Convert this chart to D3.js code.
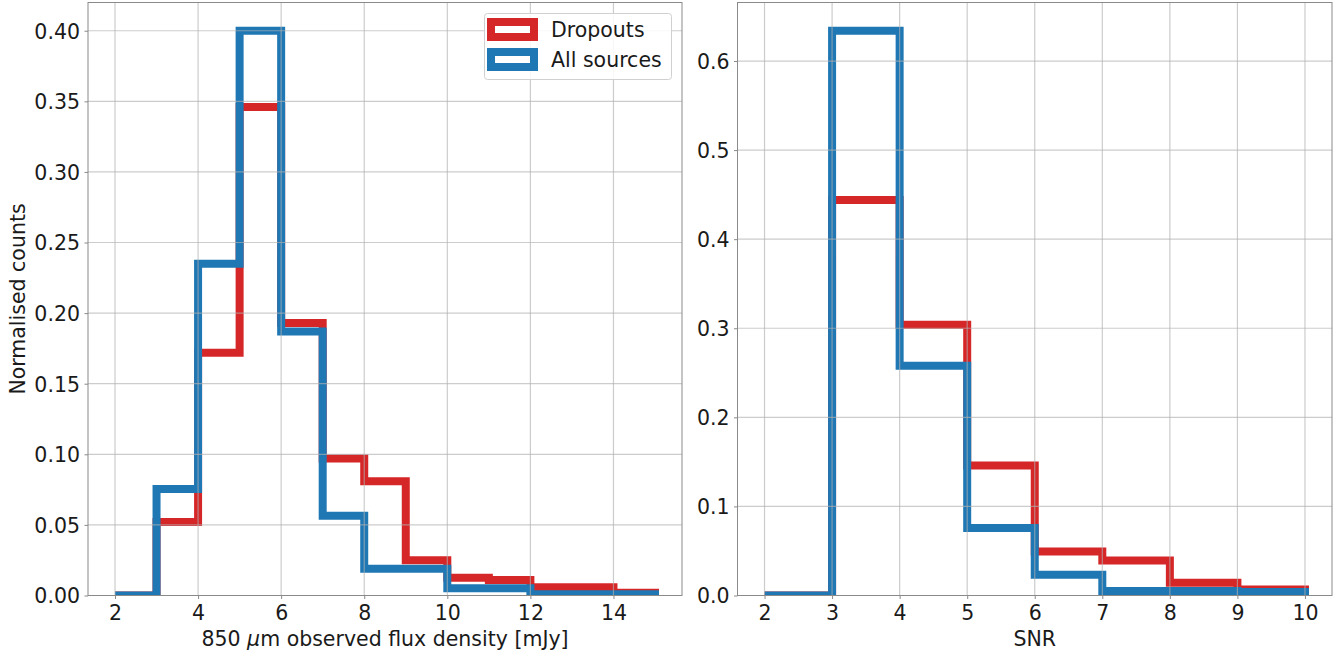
<!DOCTYPE html>
<html>
<head>
<meta charset="utf-8">
<script src="https://cdn.jsdelivr.net/npm/d3@7"></script>
<style>
  html, body { margin: 0; padding: 0; background: #fff; }
  svg { display: block; font-family: "DejaVu Sans", sans-serif; }
</style>
</head>
<body>
<svg id="chart" width="1343" height="653"></svg>
<script>
// ---------- data ----------
const fluxEdges = [2,3,4,5,6,7,8,9,10,11,12,13,14,15];
const fluxDropouts = [0.0, 0.052, 0.172, 0.346, 0.193, 0.097, 0.081, 0.025, 0.0125, 0.011, 0.0058, 0.0058, 0.002];
const fluxAll      = [0.0, 0.0755, 0.235, 0.400, 0.187, 0.0565, 0.019, 0.019, 0.0052, 0.0052, 0.0008, 0.0008, 0.0008];
const fluxTicks = [2,4,6,8,10,12,14];
const fluxYTicks = [0.00,0.05,0.10,0.15,0.20,0.25,0.30,0.35,0.40];

const snrEdges = [2,3,4,5,6,7,8,9,10];
const snrDropouts = [0.0, 0.444, 0.304, 0.146, 0.0494, 0.0393, 0.0142, 0.0068];
const snrAll      = [0.0, 0.634, 0.258, 0.0757, 0.0232, 0.0050, 0.0050, 0.0040];
const snrTicks = [2,3,4,5,6,7,8,9,10];
const snrYTicks = [0.0,0.1,0.2,0.3,0.4,0.5,0.6];

const seriesNames = ["Dropouts", "All sources"];
const seriesColors = ["#d62728", "#1f77b4"];

// ---------- layout ----------
const svg = d3.select("#chart");
const LW = 8;
const FONT = 20.5;
const gridColor = "rgba(176,176,176,0.65)";
const spineColor = "#8a8a8a";

function panel(opts) {
  const {x0, x1, y0, y1, edges, series, xticks, yticks, yfmt, xlabel, ylabel, id} = opts;
  const lo = edges[0], hi = edges[edges.length-1];
  const mx = (hi - lo) * 0.05;
  const ymax = d3.max(series.flat()) * 1.05;
  const x = d3.scaleLinear().domain([lo - mx, hi + mx]).range([x0, x1]);
  const y = d3.scaleLinear().domain([0, ymax]).range([y1, y0]);

  const g = svg.append("g");
  svg.append("defs").append("clipPath").attr("id", "clip" + id)
    .append("rect").attr("x", x0).attr("y", y0).attr("width", x1 - x0).attr("height", y1 - y0);

  const line = d3.line().x(d => x(d[0])).y(d => y(d[1]));
  const plot = g.append("g").attr("clip-path", `url(#clip${id})`);
  series.forEach((vals, si) => {
    const pts = [[edges[0], 0]];
    vals.forEach((v, i) => { pts.push([edges[i], v]); pts.push([edges[i+1], v]); });
    pts.push([edges[edges.length-1], 0]);
    plot.append("path")
      .attr("d", line(pts))
      .attr("fill", "none")
      .attr("stroke", seriesColors[si])
      .attr("stroke-width", LW)
      .attr("stroke-linejoin", "miter")
      .attr("stroke-linecap", "butt");
  });

  // grid (drawn above data, semi-transparent)
  const grid = g.append("g");
  xticks.forEach(t => grid.append("line")
    .attr("x1", x(t)).attr("x2", x(t)).attr("y1", y0).attr("y2", y1)
    .attr("stroke", gridColor).attr("stroke-width", 1.2));
  yticks.forEach(t => grid.append("line")
    .attr("x1", x0).attr("x2", x1).attr("y1", y(t)).attr("y2", y(t))
    .attr("stroke", gridColor).attr("stroke-width", 1.2));

  // axes
  const xAxis = d3.axisBottom(x).tickValues(xticks).tickSize(3.5).tickPadding(4)
    .tickFormat(d3.format("d"));
  const yAxis = d3.axisLeft(y).tickValues(yticks).tickSize(3.5).tickPadding(4)
    .tickFormat(d3.format(yfmt));
  const gx = g.append("g").attr("transform", `translate(0,${y1})`).call(xAxis);
  const gy = g.append("g").attr("transform", `translate(${x0},0)`).call(yAxis);
  [gx, gy].forEach(a => {
    a.select(".domain").remove();
    a.selectAll(".tick line").attr("stroke", spineColor).attr("stroke-width", 1);
    a.selectAll(".tick text").attr("fill", "#1a1a1a").style("font-size", FONT + "px")
      .style("font-family", "DejaVu Sans, sans-serif");
  });
  gx.selectAll(".tick text").attr("dy", null).attr("y", 24);
  gy.selectAll(".tick text").attr("dy", "0.36em").attr("x", -8);

  // spines
  g.append("rect").attr("x", x0).attr("y", y0).attr("width", x1 - x0).attr("height", y1 - y0)
    .attr("fill", "none").attr("stroke", spineColor).attr("stroke-width", 1);

  // x label
  const xl = g.append("text").attr("x", (x0 + x1) / 2).attr("y", 646)
    .attr("text-anchor", "middle").attr("fill", "#1a1a1a").style("font-size", FONT + "px");
  xlabel.forEach(part => xl.append("tspan").text(part.t).style("font-style", part.i ? "italic" : "normal"));

  if (ylabel) {
    g.append("text").attr("transform", `translate(25,${(y0 + y1) / 2}) rotate(-90)`)
      .attr("text-anchor", "middle").attr("fill", "#1a1a1a").style("font-size", FONT + "px")
      .text(ylabel);
  }
  return {x, y};
}

panel({
  id: "L", x0: 88, x1: 682, y0: 2.5, y1: 595.5,
  edges: fluxEdges, series: [fluxDropouts, fluxAll],
  xticks: fluxTicks, yticks: fluxYTicks, yfmt: ".2f",
  xlabel: [{t: "850 "}, {t: "\u03bc", i: true}, {t: "m observed flux density [mJy]"}],
  ylabel: "Normalised counts"
});

panel({
  id: "R", x0: 737.5, x1: 1332, y0: 2.5, y1: 595.5,
  edges: snrEdges, series: [snrDropouts, snrAll],
  xticks: snrTicks, yticks: snrYTicks, yfmt: ".1f",
  xlabel: [{t: "SNR"}],
  ylabel: null
});

// ---------- legend ----------
const leg = svg.append("g");
leg.append("rect").attr("x", 484.5).attr("y", 13.5).attr("width", 187).attr("height", 66)
  .attr("rx", 3).attr("fill", "rgba(255,255,255,0.85)").attr("stroke", "#d0d0d0").attr("stroke-width", 1);
seriesNames.forEach((name, i) => {
  const yy = 18 + i * 30;
  leg.append("rect").attr("x", 491).attr("y", yy + 4).attr("width", 43).attr("height", 15)
    .attr("fill", "none").attr("stroke", seriesColors[i]).attr("stroke-width", LW);
  leg.append("text").attr("x", 551).attr("y", yy + 19).attr("fill", "#1a1a1a")
    .style("font-size", FONT + "px").text(name);
});
</script>
</body>
</html>
